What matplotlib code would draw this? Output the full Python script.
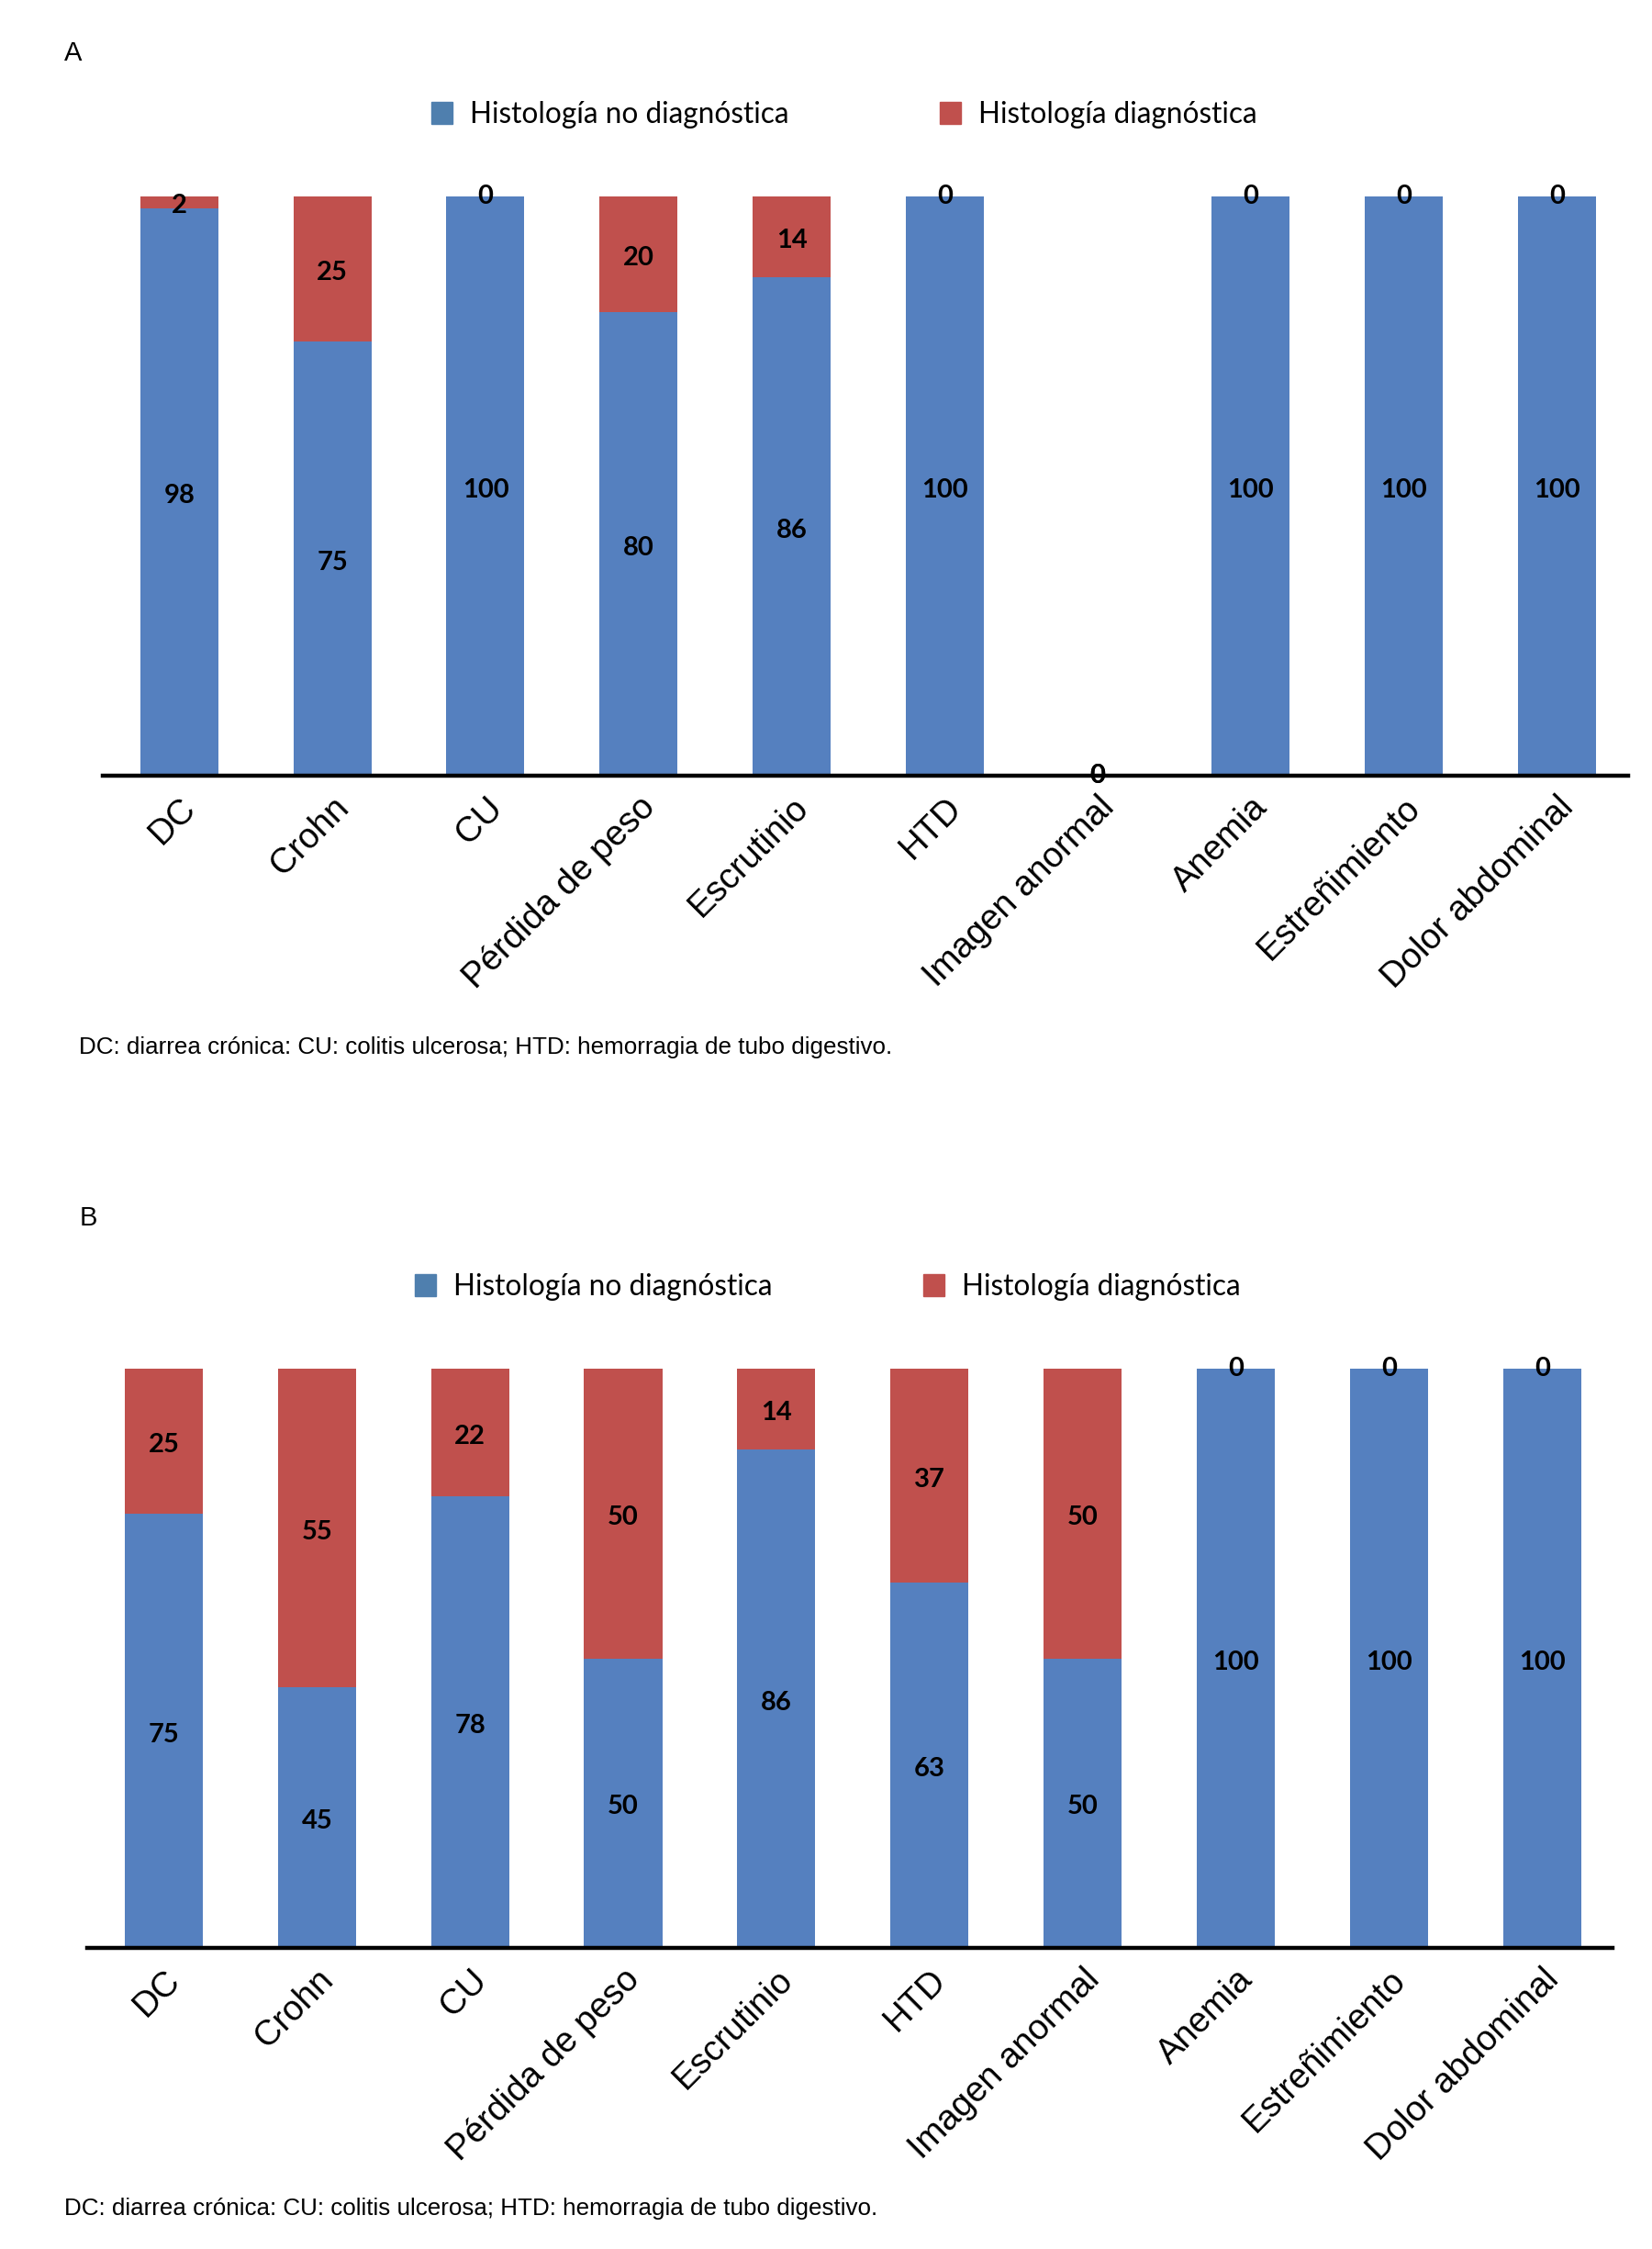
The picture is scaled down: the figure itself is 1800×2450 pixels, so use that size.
import numpy as np
import matplotlib.pyplot as plt
from matplotlib.patches import Patch

categorias = ['DC', 'Crohn', 'CU', 'Pérdida de peso', 'Escrutinio', 'HTD',
              'Imagen anormal', 'Anemia', 'Estreñimiento', 'Dolor abdominal']

no_diag_a = [98, 75, 100, 80, 86, 100, 0, 100, 100, 100]
diag_a = [2, 25, 0, 20, 14, 0, 0, 0, 0, 0]

no_diag_b = [75, 45, 78, 50, 86, 63, 50, 100, 100, 100]
diag_b = [25, 55, 22, 50, 14, 37, 50, 0, 0, 0]

nota = 'DC: diarrea crónica: CU: colitis ulcerosa; HTD: hemorragia de tubo digestivo.'

azul = '#5580BF'
rojo = '#C0504D'
azul_ley = '#4F7FAE'

W, H = 1800, 2450
fig = plt.figure(figsize=(18, 24.5), dpi=100)


def etiqueta(ax, x, y, v):
    dy = -3 if v != 0 else 0
    ax.annotate(str(v), (x, y), xytext=(0, dy), textcoords='offset points',
                ha='center', va='center', fontsize=21, fontweight='bold',
                family=['Lato', 'DejaVu Sans'], annotation_clip=False, zorder=3)


def panel(rect, xlim, nd, d, letra, letra_pos, ley_y, ley_x, nota_pos):
    ax = fig.add_axes(rect)
    x = np.arange(len(categorias))
    ax.bar(x, nd, width=0.51, color=azul, zorder=2)
    ax.bar(x, d, width=0.51, bottom=nd, color=rojo, zorder=2)
    for i in range(len(x)):
        etiqueta(ax, x[i], nd[i] / 2, nd[i])
        etiqueta(ax, x[i], nd[i] + d[i] / 2, d[i])
    ax.set_xlim(*xlim)
    ax.set_ylim(0, 100)
    for s in ['top', 'right', 'left']:
        ax.spines[s].set_visible(False)
    ax.spines['bottom'].set_linewidth(3.2)
    ax.spines['bottom'].set_zorder(4)
    ax.set_yticks([])
    ax.set_xticks(x)
    ax.set_xticklabels(categorias, rotation=45, ha='right', va='top',
                       rotation_mode='anchor', fontsize=27.5,
                       family=['Liberation Sans', 'DejaVu Sans'])
    ax.tick_params(axis='x', length=0, pad=12)
    fig.text(letra_pos[0] / W, 1 - letra_pos[1] / H, letra, fontsize=21,
             ha='left', va='center', family=['Liberation Sans', 'DejaVu Sans'])
    handles = [Patch(color=azul_ley), Patch(color=rojo)]
    fig.legend(handles, ['Histología no diagnóstica', 'Histología diagnóstica'],
               loc='center', bbox_to_anchor=(ley_x, 1 - ley_y / H), ncol=2,
               frameon=False, handlelength=0.75, handleheight=0.75,
               handletextpad=0.6, columnspacing=5.2,
               prop={'family': ['Lato', 'DejaVu Sans'], 'size': 22.7})
    fig.text(nota_pos[0] / W, 1 - nota_pos[1] / H, nota, fontsize=18.7,
             ha='left', va='center',
             family=['Liberation Sans Narrow', 'Liberation Sans', 'DejaVu Sans'])
    return ax


panel([112 / W, 1 - 845 / H, 1662 / W, 631 / H], (-0.50, 9.465),
      no_diag_a, diag_a, 'A', (70, 58), 125, 0.511, (86, 1141))
panel([95 / W, 1 - 2122 / H, 1662 / W, 631 / H], (-0.50, 9.46),
      no_diag_b, diag_b, 'B', (87, 1327), 1402, 0.501, (70, 2406))

fig.savefig('out.png', dpi=100)
